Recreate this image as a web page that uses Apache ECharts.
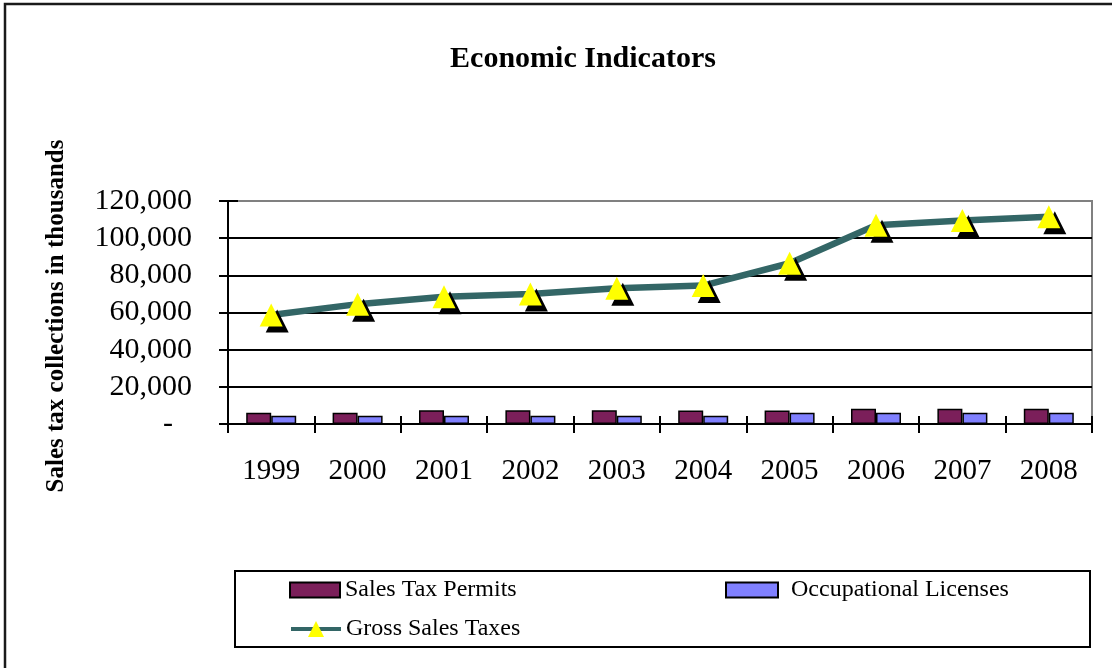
<!DOCTYPE html>
<html>
<head>
<meta charset="utf-8">
<title>Economic Indicators</title>
<script src="https://cdn.jsdelivr.net/npm/echarts/dist/echarts.min.js"></script>
<style>
  html, body { margin: 0; padding: 0; background: #ffffff; }
  #chart { width: 1112px; height: 668px; }
</style>
</head>
<body>
<div id="chart"></div>
<script>
// Fiscal years on the category axis
const years = ['1999', '2000', '2001', '2002', '2003', '2004', '2005', '2006', '2007', '2008'];

// Collections in thousands of dollars
const salesTaxPermits      = [6000, 6000, 7400, 7400, 7400, 7300, 7200, 8200, 8200, 8200];
const occupationalLicenses = [4500, 4500, 4500, 4500, 4500, 4500, 6000, 6000, 6000, 6000];
const grossSalesTaxes      = [58700, 64500, 68500, 70000, 73000, 74500, 86500, 107000, 109500, 111500];

// Value axis tick values
const yTickValues = [0, 20000, 40000, 60000, 80000, 100000, 120000];

const serif = 'Liberation Serif, Times New Roman, serif';
const yMin = yTickValues[0];
const yMax = yTickValues[yTickValues.length - 1];
const yStep = yTickValues[1] - yTickValues[0];

const chart = echarts.init(document.getElementById('chart'), null, { renderer: 'canvas' });

const legendText = { fontFamily: serif, fontSize: 24, color: '#000' };

chart.setOption({
  animation: false,
  backgroundColor: '#ffffff',
  textStyle: { fontFamily: serif },
  grid: {
    left: 228, top: 201, width: 864, height: 223,
    show: true, borderColor: '#808080', borderWidth: 2,
    containLabel: false, outerBoundsMode: 'none'
  },
  graphic: [
    // outer chart frame
    { type: 'rect', silent: true, z: -1,
      shape: { x: 5, y: 4, width: 1200, height: 800 },
      style: { fill: 'none', stroke: '#1a1a1a', lineWidth: 2.5 } },
    // legend frame
    { type: 'rect', silent: true,
      shape: { x: 235, y: 571, width: 855, height: 76 },
      style: { fill: 'none', stroke: '#000', lineWidth: 2 } },
    { type: 'text', silent: true, x: 583, y: 59,
      style: { text: 'Economic Indicators', font: 'bold 30px ' + serif,
               fill: '#000', align: 'center', verticalAlign: 'middle' } },
    { type: 'text', silent: true, x: 57, y: 316, rotation: Math.PI / 2,
      style: { text: 'Sales tax collections in thousands', font: 'bold 25px ' + serif,
               fill: '#000', align: 'center', verticalAlign: 'middle' } }
  ],
  legend: [
    { data: ['Sales Tax Permits'], left: 289, top: 578, padding: 0, icon: 'rect',
      itemWidth: 50, itemHeight: 15, textStyle: legendText },
    { data: ['Occupational Licenses'], left: 725, top: 578, padding: 0, icon: 'rect',
      itemWidth: 52, itemHeight: 15,
      textStyle: Object.assign({ padding: [0, 0, 0, 8] }, legendText) },
    { data: ['Gross Sales Taxes'], left: 289, top: 617, padding: 0,
      itemWidth: 50, itemHeight: 20, textStyle: legendText,
      lineStyle: { width: 4, color: '#336666' } }
  ],
  xAxis: [
    {
      type: 'category', data: years, boundaryGap: true,
      axisLine: { show: true, lineStyle: { color: '#000', width: 2 } },
      axisTick: { show: true, inside: false, length: 9, lineStyle: { color: '#000', width: 2 } },
      axisLabel: { color: '#000', fontFamily: serif, fontSize: 29, margin: 33, interval: 0 },
      splitLine: { show: false }
    },
    {
      type: 'category', data: years, boundaryGap: true, position: 'bottom',
      axisLine: { show: false },
      axisTick: { show: true, inside: true, length: 8, lineStyle: { color: '#000', width: 2 } },
      axisLabel: { show: false },
      splitLine: { show: false }
    }
  ],
  yAxis: [
    {
      type: 'value', min: yMin, max: yMax, interval: yStep,
      axisLine: { show: true, lineStyle: { color: '#000', width: 2 } },
      axisTick: { show: true, inside: false, length: 9, lineStyle: { color: '#000', width: 2 } },
      axisLabel: {
        color: '#000', fontFamily: serif, fontSize: 30, margin: 36,
        formatter: v => v === 0 ? '{z|-}' : v.toLocaleString('en-US'),
        rich: { z: { fontFamily: serif, fontSize: 30, color: '#000', padding: [0, 19, 0, 0] } }
      },
      splitLine: {
        show: true,
        lineStyle: { color: ['#000', '#000', '#000', '#000', '#000', '#000', '#808080'], width: 2 }
      }
    },
    {
      type: 'value', min: yMin, max: yMax, interval: yStep, position: 'left',
      axisLine: { show: false },
      axisTick: { show: true, inside: true, length: 10, lineStyle: { color: '#000', width: 2 } },
      axisLabel: { show: false },
      splitLine: { show: false }
    }
  ],
  series: [
    {
      name: 'Sales Tax Permits', type: 'bar', data: salesTaxPermits,
      barWidth: 25, barGap: '0%',
      itemStyle: { color: '#7B1F5A', borderColor: '#000', borderWidth: 1.5 }
    },
    {
      name: 'Occupational Licenses', type: 'bar', data: occupationalLicenses,
      barWidth: 25, barGap: '0%',
      itemStyle: { color: '#8080FF', borderColor: '#000', borderWidth: 1.5 }
    },
    {
      name: 'Gross Sales Taxes', type: 'line', data: grossSalesTaxes, z: 5,
      symbol: 'triangle', symbolSize: [23, 23], showAllSymbol: true,
      lineStyle: { color: '#336666', width: 6.5 },
      itemStyle: {
        color: '#FFFF00', borderWidth: 0,
        shadowColor: '#000', shadowBlur: 0, shadowOffsetX: 6, shadowOffsetY: 6
      },
      emphasis: { disabled: true }
    }
  ]
});
</script>
</body>
</html>
